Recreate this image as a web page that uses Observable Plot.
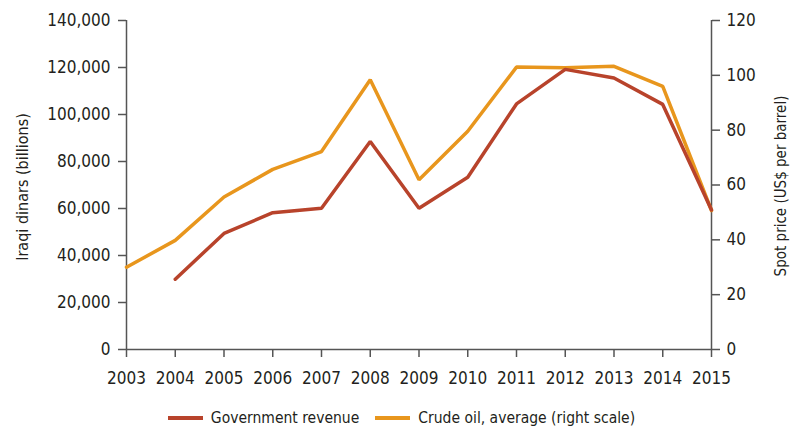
<!DOCTYPE html>
<html>
<head>
<meta charset="utf-8">
<script src="https://cdn.jsdelivr.net/npm/d3@7"></script>
<script src="https://cdn.jsdelivr.net/npm/@observablehq/plot@0.6"></script>
<style>
  html, body { margin: 0; padding: 0; background: #fff; }
  body { width: 797px; height: 430px; overflow: hidden; font-family: "DejaVu Sans Condensed", "DejaVu Sans", sans-serif; font-stretch: condensed; }
  #legend { display: flex; justify-content: center; align-items: center; font-size: 15.5px; color: #231f20; margin-top: 9px; padding-left: 6px; }
  .item { display: flex; align-items: center; margin: 0 8px; }
  .sw { width: 35px; height: 4px; margin-right: 8px; }
</style>
</head>
<body>
<div id="chart"></div>
<div id="legend"></div>
<script>
const years = [2003, 2004, 2005, 2006, 2007, 2008, 2009, 2010, 2011, 2012, 2013, 2014, 2015];
const revenue = [null, 29900, 49400, 58200, 60100, 88500, 60100, 73300, 104500, 119200, 115500, 104300, 59400];
const oilPrice = [30.0, 39.8, 55.6, 65.7, 72.2, 98.4, 61.9, 79.6, 103.0, 102.8, 103.3, 96.0, 50.7];
const leftTicks = [0, 20000, 40000, 60000, 80000, 100000, 120000, 140000];
const rightTicks = [0, 20, 40, 60, 80, 100, 120];
const seriesNames = ["Government revenue", "Crude oil, average (right scale)"];
const colors = ["#b8432b", "#e8961d"];

const leftMax = 140000, rightMax = 120;
const k = leftMax / rightMax;

const revData = years.map((y, i) => ({year: y, value: revenue[i]})).filter(d => d.value != null);
const oilData = years.map((y, i) => ({year: y, value: oilPrice[i] * k}));

const axisColor = "#555";
const textColor = "#231f20";
const fs = 17;

const plot = Plot.plot({
  width: 797,
  height: 400,
  marginLeft: 126,
  marginRight: 86,
  marginTop: 20,
  marginBottom: 51,
  style: {fontFamily: '"DejaVu Sans Condensed", "DejaVu Sans", sans-serif', fontStretch: "condensed", fontSize: fs + "px", color: textColor, background: "#fff"},
  x: {domain: [2003, 2015]},
  y: {domain: [0, leftMax]},
  marks: [
    Plot.axisX({ticks: years, tickFormat: d => String(d), tickSize: 8, tickPadding: 14, stroke: axisColor, strokeOpacity: 1, strokeWidth: 1.5, label: null, fill: textColor, fontSize: fs}),
    Plot.axisY({ticks: leftTicks, tickFormat: d3.format(","), tickSize: 8, tickPadding: 8, stroke: axisColor, strokeOpacity: 1, strokeWidth: 1.5, label: null, fill: textColor, fontSize: fs}),
    Plot.axisY({anchor: "right", ticks: rightTicks.map(v => v * k), tickFormat: d => String(Math.round(d / k)), tickSize: 8, tickPadding: 7, stroke: axisColor, strokeOpacity: 1, strokeWidth: 1.5, label: null, fill: textColor, fontSize: fs}),
    Plot.ruleX([2003], {stroke: axisColor, strokeWidth: 1.5}),
    Plot.ruleX([2015], {stroke: axisColor, strokeWidth: 1.5}),
    Plot.ruleY([0], {stroke: axisColor, strokeWidth: 1.5}),
    Plot.line(oilData, {x: "year", y: "value", stroke: colors[1], strokeWidth: 3.5, strokeLinejoin: "miter"}),
    Plot.line(revData, {x: "year", y: "value", stroke: colors[0], strokeWidth: 3.5, strokeLinejoin: "miter"}),
    Plot.text(["Iraqi dinars (billions)"], {frameAnchor: "left", textAnchor: "middle", dx: -104, dy: 2, rotate: -90, fill: textColor, fontSize: 16}),
    Plot.text(["Spot price (US$ per barrel)"], {frameAnchor: "right", textAnchor: "middle", dx: 70, dy: 1, rotate: -90, fill: textColor, fontSize: 15})
  ]
});
document.getElementById("chart").appendChild(plot);

const legend = document.getElementById("legend");
seriesNames.forEach((name, i) => {
  const item = document.createElement("div");
  item.className = "item";
  const sw = document.createElement("div");
  sw.className = "sw";
  sw.style.background = colors[i];
  const t = document.createElement("span");
  t.textContent = name;
  item.appendChild(sw);
  item.appendChild(t);
  legend.appendChild(item);
});
</script>
</body>
</html>
